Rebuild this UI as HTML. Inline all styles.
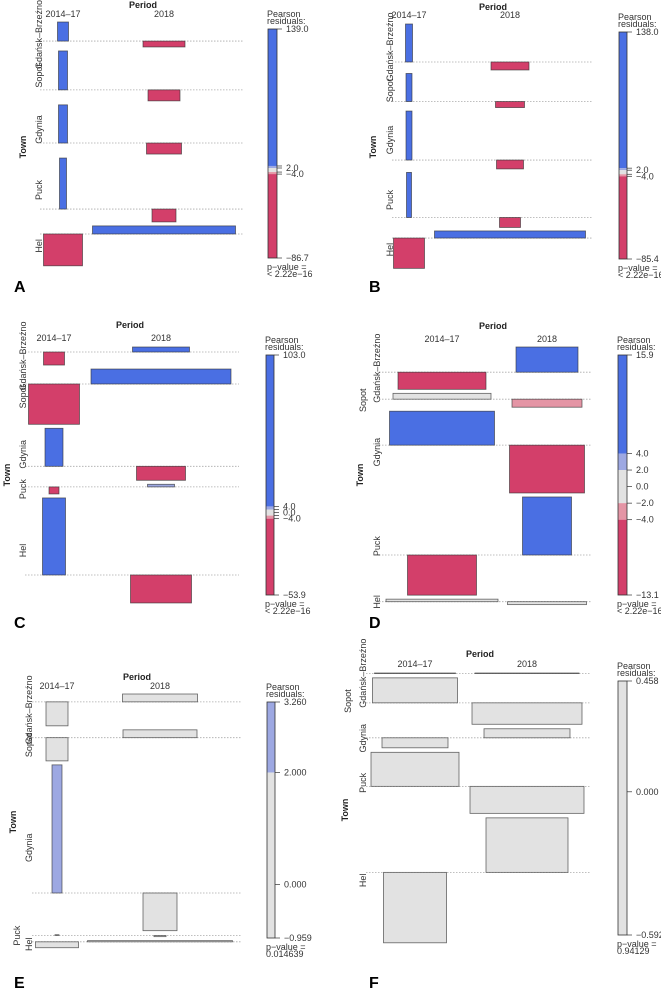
<!DOCTYPE html>
<html><head><meta charset="utf-8"><style>
html,body{margin:0;padding:0;background:#fff;}
svg{display:block;font-family:"Liberation Sans",sans-serif;}
</style></head><body>
<svg id="fig" width="661" height="991" viewBox="0 0 661 991"></svg>
<script>
// ---- data ----
const towns = ["Gdańsk–Brzeźno","Sopot","Gdynia","Puck","Hel"];
const periods = ["2014–17","2018"];
// Pearson residuals [town][period]
const residA = [[52,-16],[106,-30],[104,-30],[139,-35],[-86.7,22]];
const residB = [[107,-22.5],[79,-17],[138,-25],[127,-28],[-85.4,20]];
const residC = [[-17.4,6.7],[-53.9,20],[50.8,-18.7],[-9.4,3.5],[103,-37.4]];
const residD = [[-4.7,6.9],[1.6,-2.2],[9.3,-13.1],[-11,15.9],[0.7,-0.8]];
const residE = [[-0.61,0.2],[-0.59,0.2],[3.26,-0.959],[0.02,-0.03],[-0.15,0.03]];
const residF = [[0.003,0.003],[0.21,-0.18],[-0.084,0.076],[0.286,-0.227],[-0.592,0.458]];
// bar widths ~ sqrt(expected count)
const expA = [[11,42],[9,32],[9,35],[7,24],[39,143]];
const expB = [[7,38],[6,29],[6,27],[5,21],[31,151]];
const expC = [[21,57],[51,140],[18,49],[10,27],[23,61]];
const expD = [[88,62],[98,70],[105,75],[69,49],[112,79]];
const expE = [[22,75],[22,74],[10,34],[4,12],[43,145]];
const expF = [[81,104],[85,110],[66,86],[88,114],[63,82]];
// legend ranges & tick labels
const legMaxA=139, legMinA=-86.7, legLabelsA=["139.0","2.0","−4.0","−86.7"], legValsA=[139,2,-4,-86.7];
const legMaxB=138, legMinB=-85.4, legLabelsB=["138.0","2.0","−4.0","−85.4"], legValsB=[138,2,-4,-85.4];
const legMaxC=103, legMinC=-53.9, legLabelsC=["103.0","4.0","0.0","−4.0","−53.9"], legValsC=[103,4,0,-4,-53.9];
const legMaxD=15.9, legMinD=-13.1, legLabelsD=["15.9","4.0","2.0","0.0","−2.0","−4.0","−13.1"], legValsD=[15.9,4,2,0,-2,-4,-13.1];
const legMaxE=3.26, legMinE=-0.959, legLabelsE=["3.260","2.000","0.000","−0.959"], legValsE=[3.26,2,0,-0.959];
const legMaxF=0.458, legMinF=-0.592, legLabelsF=["0.458","0.000","−0.592"], legValsF=[0.458,0,-0.592];
const pvals = ["< 2.22e−16","< 2.22e−16","< 2.22e−16","< 2.22e−16","0.014639","0.94129"];

// ---- layout ----
const panels = [
 {id:"a",letter:"A",ox:0,oy:0,res:residA,wid:expA,top:22,gap:4,scale:0.367,cx:[63,164],lx:[40,243],labX:[39,39,39,39,39],town:[23,147],period:[143,8],headY:17,
  leg:{x:268,y:29,w:9,h:229,max:legMaxA,min:legMinA,labels:legLabelsA,vals:legValsA},letterPos:[14,292]},
 {id:"b",letter:"B",ox:330,oy:0,res:residB,wid:expB,top:24,gap:3.5,scale:0.355,cx:[79,180],lx:[62,263],labX:[60,60,60,60,60],town:[43,147],period:[163,10],headY:18,
  leg:{x:289,y:32,w:8,h:227,max:legMaxB,min:legMinB,labels:legLabelsB,vals:legValsB},letterPos:[39,292]},
 {id:"c",letter:"C",ox:0,oy:330,res:residC,wid:expC,top:17,gap:4,scale:0.748,cx:[54,161],lx:[25,239],labX:[23,23,23,23,23],town:[7,145],period:[130,-2],headY:11,
  leg:{x:266,y:25,w:8,h:240,max:legMaxC,min:legMinC,labels:legLabelsC,vals:legValsC},letterPos:[14,298]},
 {id:"d",letter:"D",ox:330,oy:330,res:residD,wid:expD,top:17,gap:4,scale:3.65,cx:[112,217],lx:[49,261],labX:[47,33,47,47,47],town:[30,145],period:[163,-1],headY:12,
  leg:{x:288,y:25,w:9,h:240,max:legMaxD,min:legMinD,labels:legLabelsD,vals:legValsD},letterPos:[39,298]},
 {id:"e",letter:"E",ox:0,oy:640,res:residE,wid:expE,top:54,gap:4,scale:39.3,cx:[57,160],lx:[32,241],labX:[29,29,29,17,29],town:[13,182],period:[137,40],headY:49,
  leg:{x:267,y:62,w:8,h:236,max:legMaxE,min:legMinE,labels:legLabelsE,vals:legValsE},letterPos:[14,348]},
 {id:"f",letter:"F",ox:330,oy:640,res:residF,wid:expF,top:33,gap:4.5,scale:119,cx:[85,197],lx:[36,260],labX:[33,18,33,33,33],town:[15,170],period:[150,17],headY:27,
  leg:{x:288,y:41,w:9,h:254,max:legMaxF,min:legMinF,labels:legLabelsF,vals:legValsF},letterPos:[39,348]}
];

const NS="http://www.w3.org/2000/svg";
const fig=document.getElementById("fig");
function mk(tag,attrs,parent){const e=document.createElementNS(NS,tag);for(const k in attrs)e.setAttribute(k,attrs[k]);parent.appendChild(e);return e;}
function shade(v){ if(v>4) return "#4A6FE3"; if(v>2) return "#9DA8E2"; if(v>=-2) return "#E2E2E2"; if(v>=-4) return "#E495A5"; return "#D33F6A"; }

panels.forEach((p,pi)=>{
  const g=mk("g",{transform:`translate(${p.ox},${p.oy})`},fig);
  
  
  // row baselines (vcd assoc layout)
  let y=p.top; const base=[];
  p.res.forEach((row,ri)=>{
    const pos=Math.max(0,...row.map(v=>v*p.scale));
    const neg=Math.max(0,...row.map(v=>-v*p.scale));
    const b=y+pos; base.push(b);
    const ln=mk("line",{x1:p.lx[0],x2:p.lx[1],y1:b,y2:b,stroke:"#aaa","stroke-width":0.8,"stroke-dasharray":"1.5,1.5"},g);
    
    
    const lab=mk("text",{x:p.labX[ri],y:(y+b+neg)/2,"font-size":9,fill:"#333","text-anchor":"middle","dominant-baseline":"central",transform:`rotate(-90 ${p.labX[ri]} ${(y+b+neg)/2})`},g);
    lab.textContent=towns[ri];
    
    
    row.forEach((v,ci)=>{
      const h=Math.abs(v)*p.scale, w=p.wid[ri][ci];
      const r=mk("rect",{x:p.cx[ci]-w/2,y:v>=0?b-h:b,width:w,height:Math.max(h,0.6),fill:shade(v),stroke:"#333","stroke-opacity":0.75,"stroke-width":0.8},g);
      
      
    });
    y=b+neg+p.gap;
  });
  // headers
  periods.forEach((t,ci)=>{
    const h=mk("text",{x:p.cx[ci],y:p.headY,"font-size":9,fill:"#333","text-anchor":"middle"},g);
    h.textContent=t;
    
    
  });
  const pt=mk("text",{x:p.period[0],y:p.period[1],"font-size":9,"font-weight":"bold",fill:"#222","text-anchor":"middle"},g);
  pt.textContent="Period";
  
  
  const tt=mk("text",{x:p.town[0],y:p.town[1],"font-size":9,"font-weight":"bold",fill:"#222","text-anchor":"middle","dominant-baseline":"central",transform:`rotate(-90 ${p.town[0]} ${p.town[1]})`},g);
  tt.textContent="Town";
  
  
  // legend
  const L=p.leg;
  const ly=v=>L.y+(L.max-v)/(L.max-L.min)*L.h;
  const brk=[L.max,4,2,-2,-4,L.min].filter(v=>v<=L.max&&v>=L.min);
  for(let i=0;i<brk.length-1;i++){
    const a=brk[i],b=brk[i+1]; if(a===b) continue;
    const s=mk("rect",{x:L.x,y:ly(a),width:L.w,height:ly(b)-ly(a),fill:shade((a+b)/2)},g);
    
    
  }
  const lb=mk("rect",{x:L.x,y:L.y,width:L.w,height:L.h,fill:"none",stroke:"#333","stroke-width":0.8},g);
  
  
  const tickVals=[...new Set([...L.vals,...brk])];
  tickVals.forEach(v=>{
    const t=mk("line",{x1:L.x+L.w,x2:L.x+L.w+5,y1:ly(v),y2:ly(v),stroke:"#333","stroke-width":0.7},g);
    
    
  });
  L.vals.forEach((v,i)=>{
    const t=mk("text",{x:L.x+L.w+9,y:ly(v)+3,"font-size":9,fill:"#333"},g);
    t.textContent=L.labels[i];
    
    
  });
  [["Pearson",-12],["residuals:",-5]].forEach(([s,dy])=>{
    const t=mk("text",{x:L.x-1,y:L.y+dy,"font-size":9,fill:"#333"},g);
    t.textContent=s;
    
    
  });
  [["p−value =",12],[pvals[pi],19]].forEach(([s,dy])=>{
    const t=mk("text",{x:L.x-1,y:L.y+L.h+dy,"font-size":9,fill:"#333"},g);
    t.textContent=s;
    
    
  });
  const le=mk("text",{x:p.letterPos[0],y:p.letterPos[1],"font-size":16,"font-weight":"bold",fill:"#000"},g);
  le.textContent=p.letter;
  
  
});
</script>
</body></html>
